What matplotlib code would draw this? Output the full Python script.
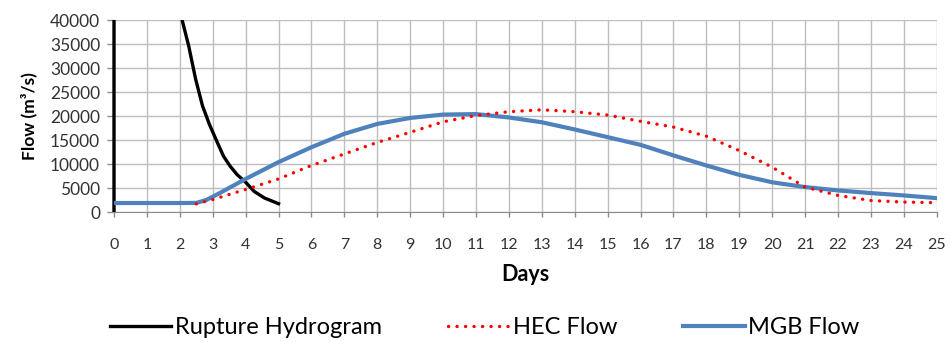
import numpy as np
import matplotlib; matplotlib.use("Agg")
import matplotlib.pyplot as plt
from matplotlib.patches import Rectangle

plt.rcParams.update({"font.family": ["Lato", "DejaVu Sans"], "font.size": 11})

# rupture hydrogram (peak above the axis limit, clipped)
rup_day = [0, 0, 1, 2, 2.07, 2.27, 2.48, 2.69, 2.9, 3.12, 3.33, 3.53, 3.74, 4.0, 4.26, 4.57, 5.0]
rup_q = [0, 200000, 90000, 42500, 40000, 34600, 27700, 22100, 18250, 14800, 11600, 9550, 7800,
         6200, 4300, 2930, 1740]

hec_day = [2.5, 3, 4, 5, 6, 7, 8, 9, 10, 11, 12, 13, 14, 15, 16, 17, 18, 19, 20, 21, 22, 23, 24, 25]
hec_q = [1700, 2600, 4700, 6900, 9700, 12100, 14500, 16600, 18800, 20100, 20900, 21300, 20900, 20200,
         18900, 17700, 15800, 12800, 9350, 5200, 3460, 2400, 2080, 1940]

mgb_day = [0, 1, 2, 2.5, 2.8, 3.2, 4, 5, 6, 7, 8, 9, 10, 11, 12, 13, 14, 15, 16, 17, 18, 19, 20, 21, 22,
           23, 24, 25]
mgb_q = [1880, 1880, 1880, 1900, 2500, 3900, 6900, 10400, 13500, 16300, 18350, 19600, 20300, 20400,
         19700, 18700, 17200, 15600, 14000, 11800, 9700, 7750, 6200, 5200, 4500, 3950, 3460, 2900]

GRID = "#bdbdbd"

fig = plt.figure(figsize=(9.5, 3.42), dpi=100)
ax = fig.add_axes([0.12, 0.38, 0.866, 0.5615])

rl, = ax.plot(rup_day, rup_q, color="black", lw=2.4, label="Rupture Hydrogram", zorder=3)
rl.set_clip_path(Rectangle((-1, 0), 27, 40000, transform=ax.transData))
ax.plot(hec_day, hec_q, color="#ff0000", lw=2.4, ls=(0, (0.05, 2.5)), dash_capstyle="round",
        label="HEC Flow", zorder=4)
ax.plot(mgb_day, mgb_q, color="#4f81bd", lw=3.0, label="MGB Flow", zorder=3)

ax.set_xlim(0, 25)
ax.set_ylim(0, 40000)
ax.set_xticks(range(0, 26))
ax.set_yticks(range(0, 40001, 5000))
ax.grid(True, color=GRID, lw=1)
ax.set_axisbelow(True)
for s in ("top", "right"):
    ax.spines[s].set_visible(False)
for s in ("left", "bottom"):
    ax.spines[s].set_color("#8c8c8c")
ax.tick_params(axis="both", colors="#8c8c8c", width=1, labelcolor="#333333", labelsize=11.5)
ax.tick_params(axis="x", length=3.6, pad=15)
ax.tick_params(axis="y", length=5, pad=5, labelsize=12.5)

ax.set_xlabel("Days", fontsize=15.5, fontweight="bold", labelpad=9)
ax.set_ylabel("Flow (m³/s)", fontsize=12.5, fontweight="bold", labelpad=9)

fig.legend(loc="lower center", bbox_to_anchor=(0.51, -0.05), ncol=3, frameon=False,
           fontsize=17, handlelength=2.6, columnspacing=2.8, handletextpad=0.15)

fig.savefig("out.png", dpi=100, facecolor="white")
